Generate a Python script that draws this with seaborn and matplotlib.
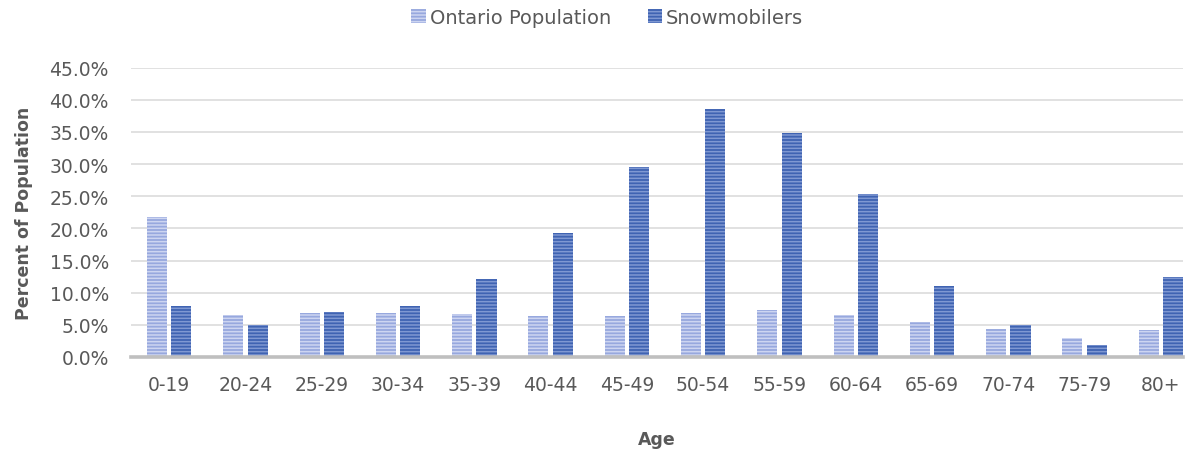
import matplotlib
matplotlib.use("Agg")
import matplotlib.pyplot as plt
from matplotlib.patches import Patch
import seaborn as sns
import pandas as pd

age_groups = ["0-19", "20-24", "25-29", "30-34", "35-39", "40-44", "45-49",
              "50-54", "55-59", "60-64", "65-69", "70-74", "75-79", "80+"]
ontario_population = [21.8, 6.5, 6.8, 6.8, 6.7, 6.4, 6.4, 6.9, 7.3, 6.6, 5.4, 4.4, 3.0, 4.2]
snowmobilers = [8.0, 4.9, 7.0, 8.0, 12.2, 19.3, 29.5, 38.6, 34.9, 25.4, 11.0, 4.9, 1.8, 12.5]
series_names = ["Ontario Population", "Snowmobilers"]
y_ticks = [0, 5, 10, 15, 20, 25, 30, 35, 40, 45]

df = pd.DataFrame({
    "Age": age_groups * 2,
    "Percent": ontario_population + snowmobilers,
    "Series": [series_names[0]] * len(age_groups) + [series_names[1]] * len(age_groups),
})

sns.set_theme(style="white")
plt.rcParams["font.family"] = ["DejaVu Sans"]
plt.rcParams["hatch.linewidth"] = 1.1

colors = {"Ontario Population": "#97A8DE", "Snowmobilers": "#3F63B2"}
stripe = {"Ontario Population": "#CDD5F1", "Snowmobilers": "#7F98D2"}
text_gray = "#595959"

fig = plt.figure(figsize=(11.93, 4.52), dpi=100)
ax = fig.add_axes([131 / 1193, 1 - 358 / 452, (1183 - 131) / 1193, (358 - 68.6) / 452])

sns.barplot(data=df, x="Age", y="Percent", hue="Series", hue_order=series_names,
            palette=colors, width=0.64, gap=0.18, legend=False, ax=ax,
            saturation=1)

# Horizontal-line fill pattern on every bar
for cont, name in zip(ax.containers, series_names):
    for bar in cont:
        bar.set_hatch("-----")
        bar.set_edgecolor(stripe[name])
        bar.set_linewidth(0)

ax.set_ylim(0, 45)
ax.set_xlim(-0.5, 13.29)
ax.set_yticks(y_ticks)
ax.set_yticklabels([f"{v:.1f}%" for v in y_ticks])
ax.yaxis.grid(True, color="#DCDCDC", linewidth=1.2)
ax.set_axisbelow(True)
for side in ["top", "right", "left"]:
    ax.spines[side].set_visible(False)
ax.spines["bottom"].set_color("#BFBFBF")
ax.spines["bottom"].set_linewidth(2.6)
ax.tick_params(axis="both", length=0, colors=text_gray, labelsize=13.5)
ax.tick_params(axis="y", pad=16)
ax.tick_params(axis="x", pad=13)

ax.set_xlabel("Age", fontsize=12.5, fontweight="bold", color=text_gray, labelpad=26)
ax.set_ylabel("Percent of Population", fontsize=12.5, fontweight="bold", color=text_gray, labelpad=12)

handles = [Patch(facecolor=colors[n], edgecolor=stripe[n], hatch="-----", linewidth=0)
           for n in series_names]
fig.legend(handles, series_names, loc="center", bbox_to_anchor=(0.509, 1 - 18 / 452),
           ncol=2, frameon=False, fontsize=14, handlelength=0.75, handleheight=0.75,
           handletextpad=0.2, columnspacing=1.9, labelcolor=text_gray)

fig.savefig("out.png", dpi=100)
